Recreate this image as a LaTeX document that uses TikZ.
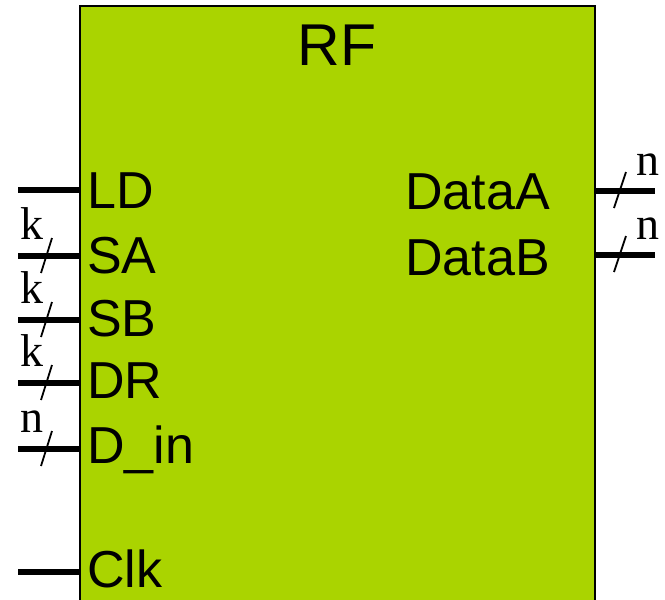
\documentclass[tikz,border=0pt]{standalone}
\usepackage{fontspec}
\setmainfont{Liberation Sans}
\newfontfamily\serifx{Liberation Serif}
\definecolor{rfgreen}{HTML}{AAD400}
\begin{document}
\begin{tikzpicture}[x=1pt,y=-1pt,
  box/.style={draw=black,line width=1.6pt,fill=rfgreen},
  wire/.style={line width=5.5pt},
  slashmark/.style={line width=1.8pt},
  portlbl/.style={inner sep=0pt,font=\fontsize{52}{52}\selectfont},
  widthlbl/.style={inner sep=0pt,font=\serifx\fontsize{46}{46}\selectfont}]
\useasboundingbox (0,0) rectangle (665,600);
\clip (0,0) rectangle (665,600);
\draw[box] (80,6) rectangle (595,620);
\node[inner sep=0pt,anchor=base,font=\fontsize{59}{59}\selectfont] (title) at (337,65) {RF};
% left ports
\foreach \nm/\yy/\bl/\txt in {LD/190/208/LD,SA/256/273/SA,SB/320/336/SB,DR/383/398/DR,Din/449/463/D\_in,Clk/572/587/Clk}{
  \node[portlbl,anchor=base west] (l\nm) at (87,\bl) {\txt};
  \coordinate (s\nm) at (18,\yy);
  \coordinate (e\nm) at (80,\yy);
  \draw[wire] (s\nm) -- (e\nm);
}
% bus slashes and widths on the left
\foreach \nm/\yy/\w in {SA/256/k,SB/320/k,DR/383/k,Din/449/n}{
  \coordinate (a\nm) at (41,\yy+17);
  \coordinate (b\nm) at (52,\yy-18);
  \draw[slashmark] (a\nm) -- (b\nm);
  \node[widthlbl,anchor=base west] (w\nm) at (20,\yy-17) {\w};
}
% right ports
\foreach \nm/\yy/\bl/\txt in {DataA/191/209/DataA,DataB/255/275/DataB}{
  \node[portlbl,anchor=base east] (r\nm) at (550,\bl) {\txt};
  \coordinate (s\nm) at (595,\yy);
  \coordinate (e\nm) at (655,\yy);
  \draw[wire] (s\nm) -- (e\nm);
  \coordinate (a\nm) at (614,\yy+17);
  \coordinate (b\nm) at (626,\yy-19);
  \draw[slashmark] (a\nm) -- (b\nm);
  \node[widthlbl,anchor=base west] (w\nm) at (636,\yy-16) {n};
}
\end{tikzpicture}
\end{document}
